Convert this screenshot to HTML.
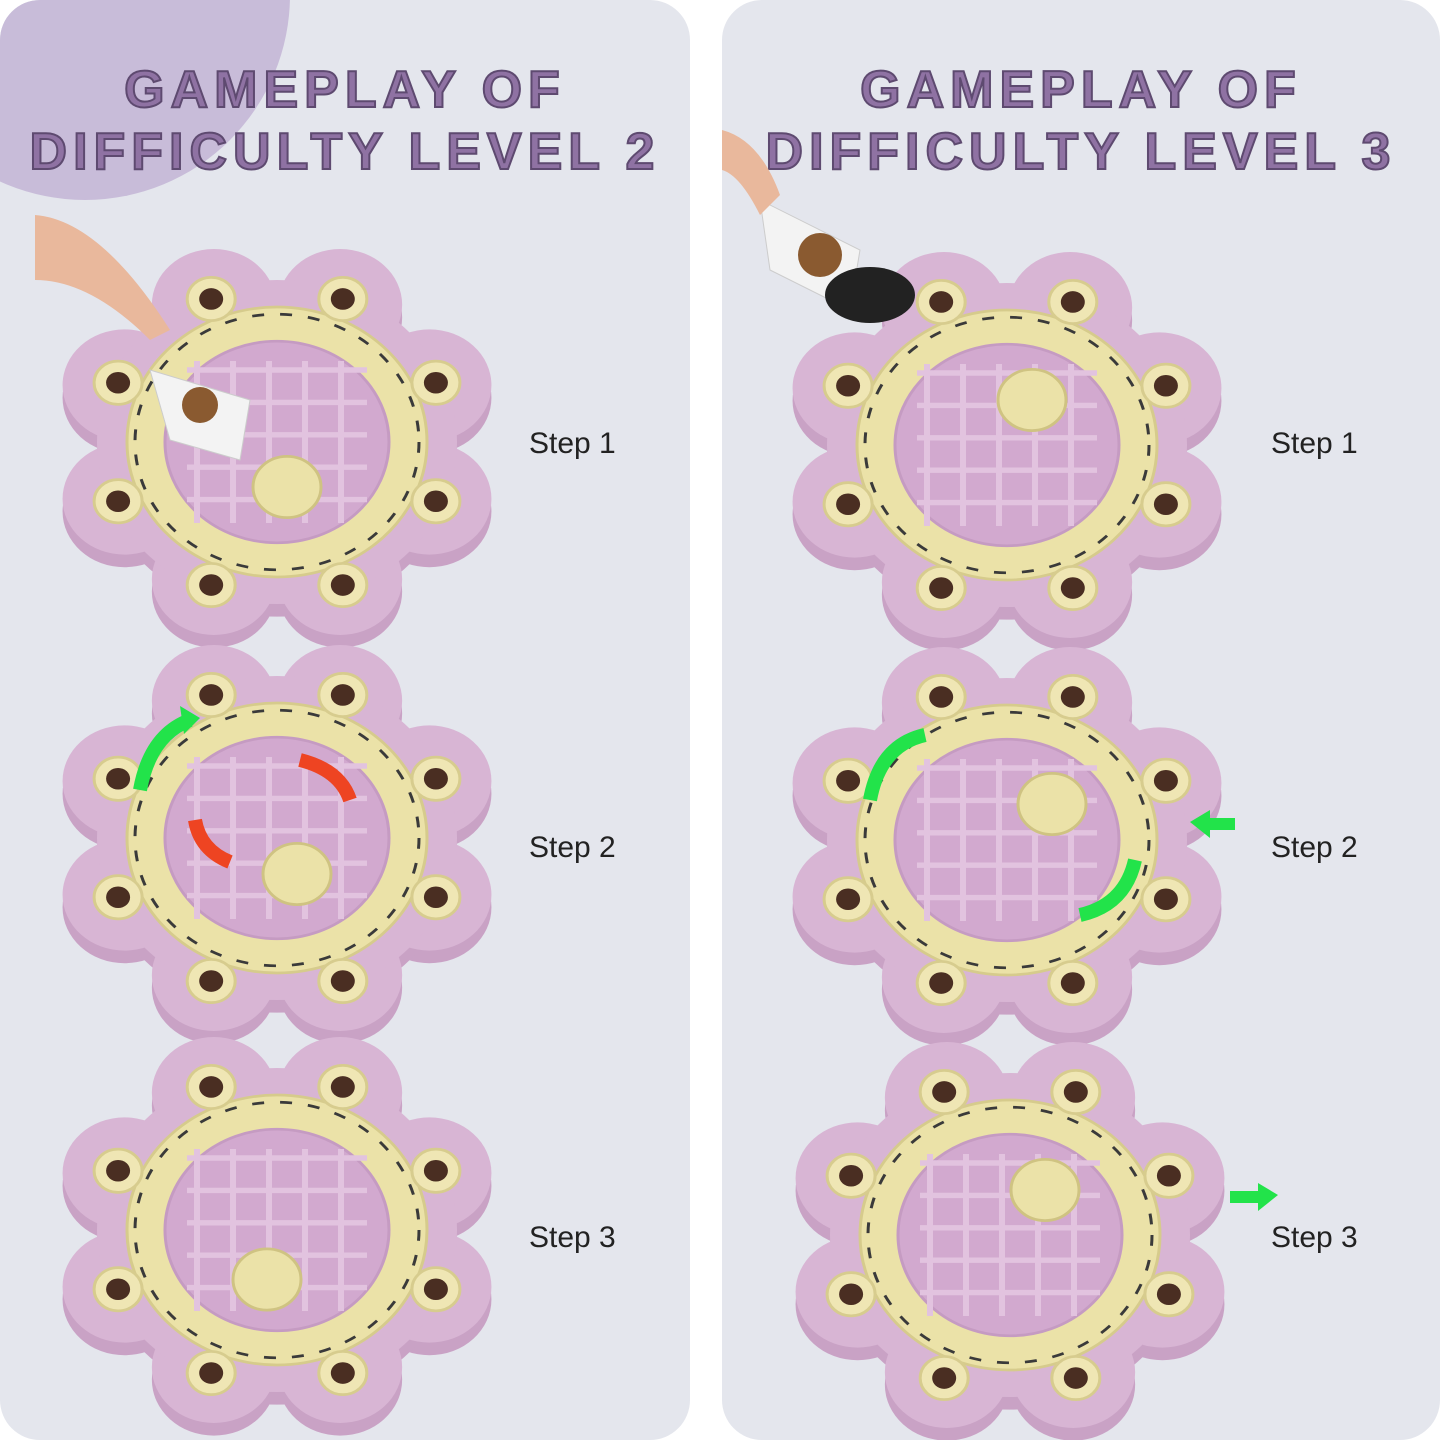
<!DOCTYPE html>
<html><head><meta charset="utf-8"><style>
html,body{margin:0;padding:0;background:#fff;}
body{width:1440px;height:1440px;position:relative;overflow:hidden;font-family:"Liberation Sans",sans-serif;}
.panel{position:absolute;top:0;height:1440px;background:#e4e6ed;border-radius:40px;overflow:hidden;}
.t{position:absolute;width:100%;text-align:center;font-weight:bold;font-size:52px;color:#8f72a3;letter-spacing:6px;-webkit-text-stroke:2px #5e4a70;font-family:"Liberation Sans",sans-serif;}
.step{position:absolute;font-size:30px;color:#222;}
svg{position:absolute;left:0;top:0;}
</style></head><body>
<div class="panel" style="left:0;width:690px;">
 <div style="position:absolute;left:-120px;top:-210px;width:410px;height:410px;border-radius:50%;background:#c8bcd9;"></div>
 <div class="t" style="top:60px;">GAMEPLAY OF</div>
 <div class="t" style="top:122px;">DIFFICULTY LEVEL 2</div>
</div>
<div class="panel" style="left:722px;width:718px;">
 <div class="t" style="top:60px;">GAMEPLAY OF</div>
 <div class="t" style="top:122px;">DIFFICULTY LEVEL 3</div>
</div>
<svg id="s" width="1440" height="1440" viewBox="0 0 1440 1440"></svg>
<div class="step" style="left:529px;top:427px;">Step 1</div>
<div class="step" style="left:529px;top:831px;">Step 2</div>
<div class="step" style="left:529px;top:1221px;">Step 3</div>
<div class="step" style="left:1271px;top:427px;">Step 1</div>
<div class="step" style="left:1271px;top:831px;">Step 2</div>
<div class="step" style="left:1271px;top:1221px;">Step 3</div>
<script>
var s=document.getElementById('s'),h='';
function flower(cx,cy,hole){
 var sx=1.0,sy=0.9,g='<g transform="translate('+cx+','+cy+') scale('+sx+','+sy+')">';
 var lobes='',bumps='';
 for(var i=0;i<8;i++){var a=i*Math.PI/4+Math.PI/8;
  lobes+='<circle cx="'+(Math.cos(a)*165)+'" cy="'+(Math.sin(a)*165)+'" r="62" fill="#d8b5d4"/>';
  bumps+='<circle cx="'+(Math.cos(a)*172)+'" cy="'+(Math.sin(a)*172)+'" r="24" fill="#efe6b4" stroke="#d7cc8e" stroke-width="3"/><circle cx="'+(Math.cos(a)*172)+'" cy="'+(Math.sin(a)*172)+'" r="12" fill="#4a2e22"/>';}
 g+='<g transform="translate(0,14)">'+lobes.replace(/#d8b5d4/g,'#c9a2c5')+'<circle r="180" fill="#c9a2c5"/></g>';
 g+=lobes+'<circle r="180" fill="#d8b5d4"/>';
 g+='<circle r="150" fill="#ebe2a8" stroke="#d6cb8c" stroke-width="3"/>';
 g+='<circle r="142" fill="none" stroke="#3a3a3a" stroke-width="3" stroke-dasharray="12 16"/>';
 g+='<circle r="112" fill="#d2a9cf" stroke="#c59bc2" stroke-width="3"/>';
 for(var k=-80;k<=80;k+=36){g+='<line x1="'+k+'" y1="-90" x2="'+k+'" y2="90" stroke="#e2c3df" stroke-width="6"/><line x1="-90" y1="'+k+'" x2="90" y2="'+k+'" stroke="#e2c3df" stroke-width="6"/>';}
 if(hole)g+='<circle cx="'+hole[0]+'" cy="'+hole[1]+'" r="34" fill="#ebe2a8" stroke="#cfc382" stroke-width="3"/>';
 g+=bumps+'</g>';return g;}
h+=flower(277,442,[10,50]);
h+=flower(277,838,[20,40]);
h+=flower(277,1230,[-10,55]);
h+=flower(1007,445,[25,-50]);
h+=flower(1007,840,[45,-40]);
h+=flower(1010,1235,[35,-50]);
h+='<path d="M140 790 Q150 735 190 720" stroke="#22e34a" stroke-width="14" fill="none"/><polygon points="180,706 200,718 184,734" fill="#22e34a"/>';
h+='<path d="M300 760 Q340 770 350 800" stroke="#ee4422" stroke-width="14" fill="none"/><path d="M195 820 Q200 850 230 862" stroke="#ee4422" stroke-width="14" fill="none"/>';
h+='<path d="M870 800 Q880 745 925 735" stroke="#22e34a" stroke-width="14" fill="none"/><path d="M1135 860 Q1125 905 1080 915" stroke="#22e34a" stroke-width="14" fill="none"/>';
h+='<polygon points="1190,822 1210,810 1210,818 1235,818 1235,830 1210,830 1210,838" fill="#22e34a"/>';
h+='<polygon points="1278,1195 1258,1183 1258,1191 1230,1191 1230,1203 1258,1203 1258,1211" fill="#22e34a"/>';
h+='<path d="M150 370 L250 400 L240 460 L170 440 Z" fill="#f3f3f3" stroke="#ccc"/><circle cx="200" cy="405" r="18" fill="#8a5a30"/>';
h+='<path d="M35 215 Q100 220 170 330 L150 340 Q90 280 35 280 Z" fill="#e9b89c"/>';
h+='<path d="M760 200 L860 250 L850 310 L770 270 Z" fill="#f3f3f3" stroke="#ccc"/><circle cx="820" cy="255" r="22" fill="#8a5a30"/><ellipse cx="870" cy="295" rx="45" ry="28" fill="#222"/>';
h+='<path d="M722 130 Q760 140 780 195 L760 215 Q740 175 722 170 Z" fill="#e9b89c"/>';
s.innerHTML=h;
</script>
</body></html>
